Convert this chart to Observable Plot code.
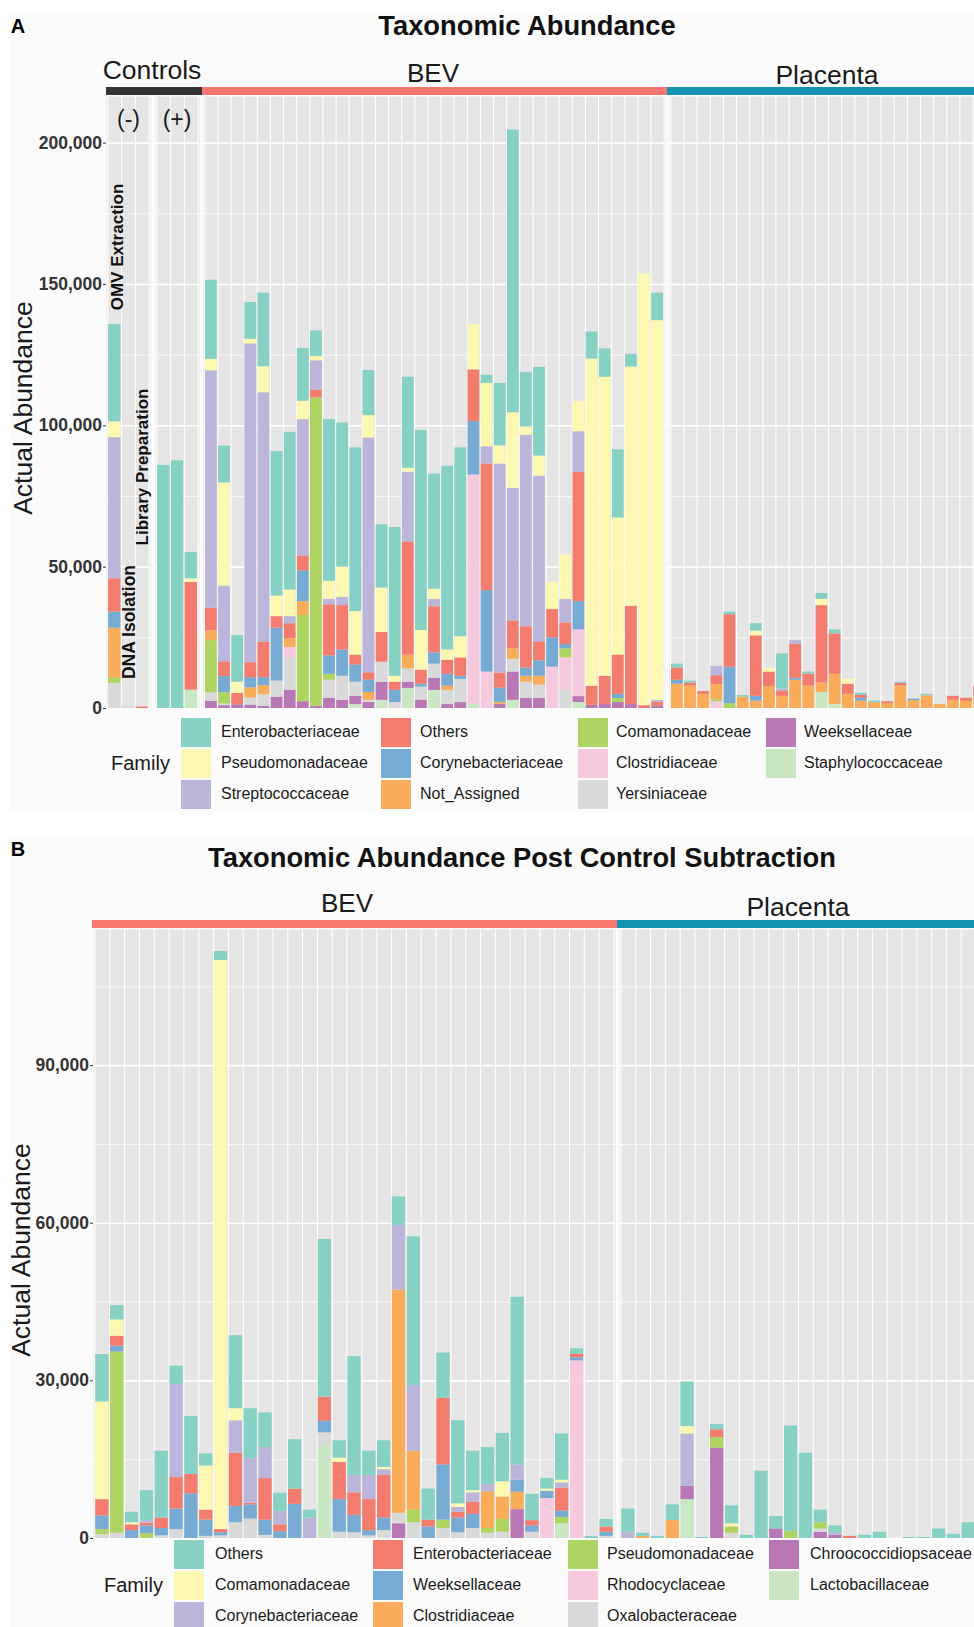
<!DOCTYPE html>
<html><head><meta charset="utf-8">
<script src="https://cdn.jsdelivr.net/npm/d3@7"></script>
<script src="https://cdn.jsdelivr.net/npm/@observablehq/plot@0.6"></script>
<style>
html,body{margin:0;padding:0;background:#fff;overflow:hidden;}
#root{position:relative;width:974px;height:1627px;overflow:hidden;font-family:"Liberation Sans",Arial,Helvetica,sans-serif;color:#1a1a1a;}
.t{position:absolute;white-space:nowrap;line-height:1;}
.b{position:absolute;}
</style></head><body><div id="root"></div>
<script>
// ---------------- samples ----------------
const ctrlNegSamples = ["NEG1","NEG2","NEG3"];
const ctrlPosSamples = ["POS1","POS2","POS3"];
const bevSamples = Array.from({length:35},(_,i)=>"BEV"+String(i+1).padStart(2,"0"));
const placentaSamples = Array.from({length:24},(_,i)=>"PL"+String(i+1).padStart(2,"0"));

// ---------------- Panel A (order: 3 neg, 3 pos, 35 BEV, 24 placenta) ----------------
const familiesA = ["Enterobacteriaceae","Pseudomonadaceae","Streptococcaceae","Others","Corynebacteriaceae","Not_Assigned","Comamonadaceae","Clostridiaceae","Yersiniaceae","Weeksellaceae","Staphylococcaceae"];
const famA_Enterobacteriaceae = [34400,0,0,86000,87600,9300,
 28000,13000,16500,13000,26000,51100,55800,18700,9100,57200, 51000,57900,16000,22400,52600,32200,70700,40700,65000,66800, 0,2900,22100,100000,19300,31400,0,0,0,9600, 10000,24100,4500,0,9700,
 1400,700,0,0,900,600,2600,0,12400,0, 700,2100,1400,0,800,600,0,400,0,500, 0,0,0,0];
const famA_Pseudomonadaceae = [5600,0,0,0,0,1300,
 4000,36500,4000,1600,9200,7300,9400,6500,1500,6400, 10700,15400,7900,15700,2100,1400,14000,3600,3600,7500, 16000,22400,6400,26700,2900,7100,9600,15700,10600,115700, 105800,48500,84600,152600,134300,
 0,0,0,0,0,0,1700,1400,0,0, 0,2200,0,1700,0,0,0,0,0,0, 0,0,0,0];
const famA_Streptococcaceae = [49900,0,0,0,0,0,
 84000,26800,0,112800,88200,0,2500,48200,10500,1900, 2900,0,83100,0,0,24700,0,2600,0,0, 0,6100,74000,46900,67800,58600,0,8300,14400,0, 0,0,0,0,700,
 0,0,0,3300,0,0,0,0,700,1200, 0,0,0,0,0,0,0,0,0,0, 0,0,0,0];
const famA_Others = [11800,0,500,0,0,38100,
 8000,5200,4000,5300,12600,4100,5300,5300,2600,18100, 15700,3500,2600,10500,2900,40000,5000,16300,5000,6500, 18300,44800,5300,9900,14600,6700,10000,7700,45700,6800, 10000,13900,34800,1000,1400,
 4300,1100,1000,3100,18600,0,21400,5300,1900,12100, 4300,27400,14300,3600,1000,0,600,1000,0,0, 0,1400,1100,3600];
const famA_Corynebacteriaceae = [5700,0,0,0,0,0,
 0,5700,0,3600,2800,18700,0,10900,0,6500, 9300,6100,4300,0,4300,0,1000,4000,4200,1100, 18900,28800,5000,0,2900,5500,10400,1500,10000,0, 0,1500,0,0,0,
 1400,0,0,0,12900,0,1700,0,0,700, 0,0,0,0,1000,0,0,0,500,0, 0,0,0,0];
const famA_Not_Assigned = [17500,0,0,0,0,0,
 3500,0,0,3600,3200,0,3100,4900,0,0, 0,0,2800,0,0,4900,0,0,1500,0, 0,0,700,3700,2100,3100,0,0,0,0, 0,0,0,0,0,
 8600,7900,5000,5400,0,4000,2600,7600,4300,10000, 7900,3300,10700,5000,2600,2000,1800,7900,2800,4500, 1400,2900,2500,4300];
const famA_Comamonadaceae = [2000,0,0,0,0,0,
 18500,4000,0,0,0,0,0,30500,109100,2100, 0,0,0,0,0,0,0,0,0,0, 0,0,0,0,0,0,0,3200,0,0, 0,1400,0,0,0,
 0,0,0,700,1700,0,0,0,0,0, 0,0,0,0,0,0,0,0,0,0, 0,0,0,0];
const famA_Clostridiaceae = [0,0,0,0,0,0,
 0,0,0,0,0,0,3700,0,0,0, 0,0,0,0,0,0,0,0,0,0, 81200,12900,0,0,0,0,14600,11500,23600,0, 0,0,0,0,0,
 0,0,0,2400,0,0,0,0,0,0, 0,0,0,0,0,0,0,0,0,0, 0,0,0,0];
const famA_Yersiniaceae = [8900,800,0,0,0,0,
 3000,600,0,2500,4100,5700,11400,0,0,6400, 8500,5000,700,7100,2100,4700,4600,5000,5000,8200, 0,0,0,4500,5700,4700,0,6400,0,0, 0,0,0,0,0,
 0,0,0,0,0,0,0,0,0,0, 0,0,0,0,0,0,0,0,0,0, 0,0,0,0];
const famA_Weeksellaceae = [0,0,0,0,0,0,
 2500,1000,1300,1200,800,4000,6500,2400,800,3600, 2900,2900,2200,6400,0,2200,3000,4300,1400,2100, 0,0,1500,10000,3600,3600,0,0,2100,1100, 1400,2100,1400,0,800,
 0,0,0,0,0,0,0,0,0,0, 0,0,0,0,0,0,0,0,0,0, 0,0,0,0];
const famA_Staphylococcaceae = [0,0,0,0,0,6500,
 0,0,0,0,0,0,0,0,0,0, 0,1400,0,2900,0,7100,0,6400,0,0, 1400,0,0,2900,0,0,0,0,2100,0, 0,0,0,0,0,
 0,0,0,0,0,0,0,0,0,0, 0,5700,1400,0,0,0,0,0,0,0, 0,0,0,0];
const yTicksA = [0,50000,100000,150000,200000];
const yMinorA = [25000,75000,125000,175000];

// ---------------- Panel B (order: 35 BEV, 24 placenta) ----------------
const familiesB = ["Others","Comamonadaceae","Corynebacteriaceae","Enterobacteriaceae","Weeksellaceae","Clostridiaceae","Pseudomonadaceae","Rhodocyclaceae","Oxalobacteraceae","Chroococcidiopsaceae","Lactobacillaceae"];
const famB_Others = [
 9000,2700,2000,5700,12700,3500,11000,2300,1700,13900, 9500,6600,3400,9400,1500,30000,3300,22600,4600,5100, 5400,28300,5900,8600,15800,7500,7000,9200,31900,5000, 2000,8800,1000,400,1400,
 4400,600,400,3000,8500,200,1000,3400,600,12800, 2400,20000,16200,2400,1300,0,600,1200,0,200, 200,1800,800,3000];
const famB_Comamonadaceae = [
 18600,3100,400,0,0,0,0,8400,108300,2300, 0,0,0,0,0,0,800,0,0,400, 0,0,0,0,700,400,0,2900,0,0, 400,500,0,0,0,
 0,0,0,0,1400,0,0,600,0,0, 0,0,0,0,0,0,0,0,0,0, 0,0,0,0];
const famB_Corynebacteriaceae = [
 0,0,0,500,0,17700,0,0,0,6200, 8500,5900,2600,0,3900,0,0,3300,4600,1100, 12300,12500,0,0,900,1800,1400,0,2900,0, 0,1000,0,0,0,
 1200,0,0,0,10000,0,0,0,0,0, 0,0,0,0,500,0,0,0,0,0, 0,0,0,0];
const famB_Enterobacteriaceae = [
 3100,1900,1100,500,2000,6000,3700,1900,600,10100, 300,7900,1300,2900,0,4600,7100,4300,5900,8100, 0,0,1300,12700,1100,2300,0,0,0,1000, 0,4400,700,0,1000,
 0,0,0,0,0,0,1500,0,0,0, 0,0,0,0,0,400,0,0,0,0, 0,0,0,0];
const famB_Weeksellaceae = [
 2600,1100,1500,1500,1400,3900,8500,3100,600,3100, 2700,2900,1300,6500,0,2200,6200,3300,1000,2400, 0,0,2200,10500,2800,2700,0,0,2300,1200, 1400,1200,600,0,800,
 0,0,0,0,0,0,0,0,0,0, 0,0,0,0,0,0,0,0,0,0, 0,0,0,0];
const famB_Clostridiaceae = [
 0,0,0,0,0,0,0,0,0,0, 0,0,0,0,0,0,0,0,0,0, 42500,11200,0,0,0,0,7000,4300,3300,0, 0,0,0,0,0,
 0,400,0,3400,0,0,0,0,0,0, 0,0,0,0,0,0,0,0,0,0, 0,0,0,0];
const famB_Pseudomonadaceae = [
 1000,34500,0,900,0,0,0,0,0,0, 0,0,0,0,0,0,0,0,0,0, 0,2400,0,1600,0,0,900,2400,0,0, 0,1200,0,0,0,
 0,0,0,0,0,0,2000,1200,0,0, 0,1400,0,1200,0,0,0,0,0,0, 0,0,0,0];
const famB_Rhodocyclaceae = [
 0,0,0,0,0,0,0,0,0,0, 0,0,0,0,0,0,0,0,0,0, 0,0,0,0,0,0,0,0,0,0, 7600,0,33800,0,0,
 0,0,0,0,0,0,0,0,0,0, 0,0,0,0,0,0,0,0,0,0, 0,0,0,0];
const famB_Oxalobacteraceae = [
 700,1000,0,0,500,1700,0,400,500,3000, 3700,600,0,0,0,2400,1200,1100,500,1500, 2000,3000,0,1900,1100,1900,1000,1200,0,1200, 0,0,0,0,400,
 0,0,0,0,0,0,0,1000,0,0, 0,0,0,600,0,0,0,0,0,0, 0,0,0,0];
const famB_Chroococcidiopsaceae = [
 0,0,0,0,0,0,0,0,0,0, 0,0,0,0,0,0,0,0,0,0, 2800,0,0,0,0,0,0,0,5500,0, 0,0,0,0,0,
 0,0,0,0,2500,0,17200,0,0,0, 1800,0,0,1200,600,0,0,0,0,0, 0,0,0,0];
const famB_Lactobacillaceae = [
 0,0,0,0,0,0,0,0,0,0, 0,0,0,0,0,17700,0,0,0,0, 0,0,0,0,0,0,0,0,0,0, 0,2800,0,0,0,
 0,0,0,0,7400,0,0,0,0,0, 0,0,0,0,0,0,0,0,0,0, 0,0,0,0];
const yTicksB = [0,30000,60000,90000];
const yMinorB = [15000,45000,75000,105000];

// palette in legend order (Set3-like)
const palette = ["#86d0c4","#fcf8b2","#bbb6d9","#f37c6f","#77abd3","#f9ad5a","#aed562","#f7c9de","#d9d9d9","#b878b6","#c9e7c2"];

// ---------------- build tables ----------------
const seriesA = [famA_Enterobacteriaceae,famA_Pseudomonadaceae,famA_Streptococcaceae,famA_Others,famA_Corynebacteriaceae,famA_Not_Assigned,famA_Comamonadaceae,famA_Clostridiaceae,famA_Yersiniaceae,famA_Weeksellaceae,famA_Staphylococcaceae];
const seriesB = [famB_Others,famB_Comamonadaceae,famB_Corynebacteriaceae,famB_Enterobacteriaceae,famB_Weeksellaceae,famB_Clostridiaceae,famB_Pseudomonadaceae,famB_Rhodocyclaceae,famB_Oxalobacteraceae,famB_Chroococcidiopsaceae,famB_Lactobacillaceae];
function longTable(samples, families, series) {
  const rows = [];
  samples.forEach((s, i) => {
    // bottom of stack = last legend entry
    for (let f = families.length - 1; f >= 0; f--) {
      const v = series[f][i];
      if (v > 0) rows.push({sample: s, family: families[f], value: v});
    }
  });
  return rows;
}
const samplesA = [...ctrlNegSamples, ...ctrlPosSamples, ...bevSamples, ...placentaSamples];
const samplesB = [...bevSamples, ...placentaSamples];
const tableA = longTable(samplesA, familiesA, seriesA);
const tableB = longTable(samplesB, familiesB, seriesB);

// ---------------- layout helpers ----------------
const root = document.getElementById("root");
const FONT = '"Liberation Sans",Arial,Helvetica,sans-serif';
function txt(s, x, y, o = {}) {
  const d = document.createElement("div");
  d.className = "t"; d.textContent = s;
  d.style.left = x + "px"; d.style.top = y + "px";
  d.style.fontSize = (o.size || 16) + "px";
  d.style.fontWeight = o.weight || "normal";
  d.style.color = o.color || "#1a1a1a";
  const ax = o.anchor === "start" ? "0" : "-50%";
  d.style.transform = `translate(${ax},-50%)` + (o.rotate ? ` rotate(${o.rotate}deg)` : "");
  root.appendChild(d);
}
function box(x, y, w, h, fill) {
  const d = document.createElement("div");
  d.className = "b";
  Object.assign(d.style, {left: x + "px", top: y + "px", width: w + "px", height: h + "px", background: fill});
  root.appendChild(d);
}
function facet({samples, table, families, yDomain, left, top, width, height, ticks, minor, axisMargin}) {
  const ml = axisMargin || 0;
  const step = width / (samples.length + 0.2);
  const keep = new Set(samples);
  const data = table.filter(d => keep.has(d.sample));
  const marks = [
    Plot.frame({fill: "#e5e5e5", stroke: null}),
    Plot.ruleY(minor, {y: d => d, stroke: "white", strokeWidth: 0.7}),
    Plot.ruleY(ticks, {y: d => d, stroke: "white", strokeWidth: 1.6}),
    Plot.ruleX(samples, {x: d => d, dx: -step / 2, stroke: "white", strokeWidth: 1.1}),
    Plot.ruleX(samples.slice(-1), {x: d => d, dx: step / 2, stroke: "white", strokeWidth: 1.1}),
    Plot.barY(data, {x: "sample", y: "value", fill: "family"})
  ];
  if (ml) marks.push(Plot.axisY({ticks, tickFormat: d3.format(","), tickSize: 3, tickPadding: 1.5, stroke: "#333", label: null}));
  const el = Plot.plot({
    width: width + ml, height,
    marginLeft: ml, marginRight: 0, marginTop: 0, marginBottom: 0,
    x: {type: "band", domain: samples, paddingInner: 0.1, paddingOuter: 0.15, align: 0.5, round: false, axis: null},
    y: ml ? {domain: yDomain} : {domain: yDomain, axis: null},
    color: {type: "ordinal", domain: families, range: palette},
    style: {background: "transparent", fontFamily: FONT, fontSize: "17.5px", fontWeight: "bold", color: "#333", overflow: "visible", maxWidth: "none"},
    marks
  });
  el.style.position = "absolute";
  el.style.left = (left - ml) + "px";
  el.style.top = top + "px";
  root.appendChild(el);
}
function legend(title, families, titleX, keyXs, labelXs, rowYs) {
  txt(title, titleX, rowYs[1], {size: 20, anchor: "start"});
  families.forEach((f, i) => {
    const c = Math.floor(i / 3), r = i % 3;
    box(keyXs[c], rowYs[r] - 14.5, 30, 29, palette[i]);
    txt(f, labelXs[c], rowYs[r], {size: 16, anchor: "start"});
  });
}

// faint plot backgrounds
box(10, 13, 980, 800, "#fbfbfb");
box(10, 836, 980, 800, "#fbfbfb");

// ---------------- Panel A ----------------
txt("A", 18, 26, {size: 20, weight: "bold", color: "#000"});
txt("Taxonomic Abundance", 527, 26, {size: 27.3, weight: "bold", color: "#111"});
txt("Controls", 152, 70, {size: 26.5, color: "#1a1a1a"});
txt("BEV", 433, 73, {size: 26});
txt("Placenta", 827, 75, {size: 26.5});
box(106, 87, 95.5, 8, "#333333");
box(201.5, 87, 465, 8, "#F8766D");
box(666.5, 87, 340, 8, "#1294b2");
const yDomA = [0, 216500];
facet({samples: ctrlNegSamples, table: tableA, families: familiesA, yDomain: yDomA, left: 106, top: 96, width: 44, height: 612, ticks: yTicksA, minor: yMinorA, axisMargin: 106});
facet({samples: ctrlPosSamples, table: tableA, families: familiesA, yDomain: yDomA, left: 155, top: 96, width: 44, height: 612, ticks: yTicksA, minor: yMinorA});
facet({samples: bevSamples, table: tableA, families: familiesA, yDomain: yDomA, left: 203, top: 96, width: 462, height: 612, ticks: yTicksA, minor: yMinorA});
facet({samples: placentaSamples, table: tableA, families: familiesA, yDomain: yDomA, left: 669, top: 96, width: 318, height: 612, ticks: yTicksA, minor: yMinorA});
txt("(-)", 128.5, 119, {size: 23});
txt("(+)", 177, 119, {size: 23});
txt("OMV Extraction", 117, 247, {size: 17, weight: "bold", rotate: -90, color: "#111"});
txt("Library Preparation", 141.5, 467, {size: 17, weight: "bold", rotate: -90, color: "#111"});
txt("DNA Isolation", 130, 622, {size: 17.5, weight: "bold", rotate: -90, color: "#111"});
txt("Actual Abundance", 23, 408, {size: 26.5, rotate: -90});
legend("Family", familiesA, 111, [181, 381, 578, 766], [221, 420, 616, 804], [732, 763, 794]);

// ---------------- Panel B ----------------
txt("B", 18, 849, {size: 20, weight: "bold", color: "#000"});
txt("Taxonomic Abundance Post Control Subtraction", 522, 858, {size: 27.3, weight: "bold", color: "#111"});
txt("BEV", 347, 903, {size: 26});
txt("Placenta", 798, 907, {size: 26.5});
box(92, 920, 525, 8, "#F8766D");
box(617, 920, 390, 8, "#1294b2");
const yDomB = [0, 115900];
facet({samples: bevSamples, table: tableB, families: familiesB, yDomain: yDomB, left: 93, top: 929, width: 522, height: 609, ticks: yTicksB, minor: yMinorB, axisMargin: 93});
facet({samples: placentaSamples, table: tableB, families: familiesB, yDomain: yDomB, left: 619, top: 929, width: 358, height: 609, ticks: yTicksB, minor: yMinorB});
txt("Actual Abundance", 21, 1250, {size: 26.5, rotate: -90});
legend("Family", familiesB, 104, [174, 373, 568, 769], [215, 413, 607, 810], [1554, 1585, 1616]);
</script>
</body></html>
